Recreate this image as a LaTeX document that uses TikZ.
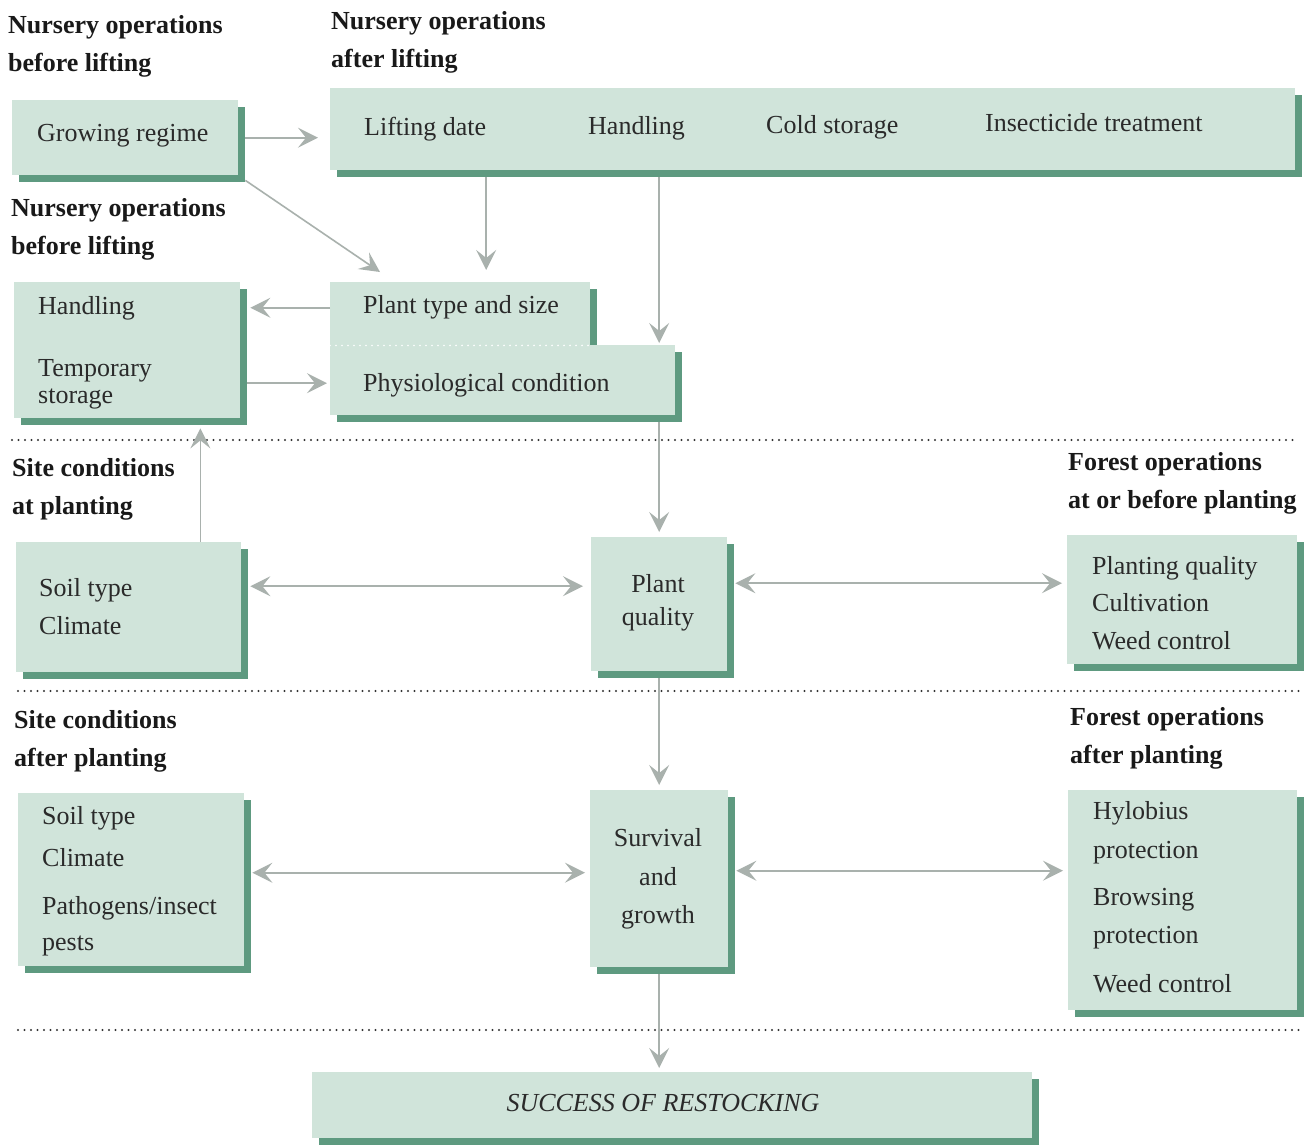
\documentclass[tikz,border=0pt]{standalone}
\usepackage{fontspec}
\setmainfont{Liberation Serif}
\usetikzlibrary{arrows.meta,shadows}
\definecolor{boxfill}{HTML}{D0E4DA}
\definecolor{boxshade}{HTML}{5E9A80}
\definecolor{arrowgrey}{HTML}{A9B1AD}
\definecolor{inkgrey}{HTML}{2A2A2A}
\newcommand\boxfont{\fontsize{26}{30}\selectfont}
\newcommand\headfont{\fontsize{26}{38}\selectfont\bfseries}

\tikzset{
  panel/.style={fill=boxfill, draw=none, inner sep=0pt, anchor=north west,
    drop shadow={shadow xshift=7pt, shadow yshift=-7pt, fill=boxshade, opacity=1}},
  entry/.style={font=\boxfont, text=inkgrey, anchor=west, inner sep=0pt,
    text height=18pt, text depth=6pt},
  heading/.style={font=\headfont, text=black!90, anchor=north west, align=left, inner sep=0pt},
  flow/.style={draw=arrowgrey, line width=1.6pt, -{Stealth[length=20pt,width=20pt,inset=8pt]}},
  twoway/.style={flow, {Stealth[length=20pt,width=20pt,inset=8pt]}-{Stealth[length=20pt,width=20pt,inset=8pt]}},
  sepline/.style={line width=2.3pt, line cap=round, dash pattern=on 0pt off 6.5pt, draw=black!80},
  seam/.style={line width=1.8pt, line cap=round, dash pattern=on 0pt off 6pt, draw=white}
}

\begin{document}
\begin{tikzpicture}[x=1pt, y=-1pt]

\fill[white] (0,0) rectangle (1310,1146);
\useasboundingbox (0,0) rectangle (1310,1146);

% Headings
\node[heading] (headA) at (8,15) {Nursery operations\\before lifting};
\node[heading] (headB) at (331,11) {Nursery operations\\after lifting};
\node[heading] (headC) at (11,198) {Nursery operations\\before lifting};
\node[heading] (headD) at (12,458) {Site conditions\\at planting};
\node[heading] (headE) at (1068,452) {Forest operations\\at or before planting};
\node[heading] (headF) at (14,710) {Site conditions\\after planting};
\node[heading] (headG) at (1070,707) {Forest operations\\after planting};

% Section separators
\draw[sepline] (12,440) -- (1295,440);
\draw[sepline] (18,691) -- (1300,691);
\draw[sepline] (18,1030) -- (1303,1030);

% Nursery, before lifting
\node[panel, minimum width=226, minimum height=75] (grow) at (12,100) {};
\node[entry] (growtxt) at (37,135) {Growing regime};

% Nursery, after lifting
\node[panel, minimum width=965, minimum height=82] (after) at (330,88) {};
\node[entry] (lift) at (364,129) {Lifting date};
\node[entry] (handA) at (588,128) {Handling};
\node[entry] (cold) at (766,127) {Cold storage};
\node[entry] (insect) at (985,125) {Insecticide treatment};

% Handling and storage
\node[panel, minimum width=226, minimum height=136] (store) at (14,282) {};
\node[entry] (handB) at (38,308) {Handling};
\node[entry] (temp) at (38,370) {Temporary};
\node[entry] (stor) at (38,397) {storage};

% Plant type and physiology
\node[panel, minimum width=260, minimum height=63] (ptype) at (330,282) {};
\node[panel, minimum width=345, minimum height=70] (physio) at (330,345) {};
\draw[seam] (ptype.south west) -- (ptype.south east);
\node[entry] (ptypetxt) at (363,307) {Plant type and size};
\node[entry] (physiotxt) at (363,385) {Physiological condition};

% At planting
\node[panel, minimum width=225, minimum height=130] (soil) at (16,542) {};
\node[entry] (soilA) at (39,590) {Soil type};
\node[entry] (climA) at (39,628) {Climate};

\node[panel, minimum width=136, minimum height=134] (quality) at (591,537) {};
\node[entry, anchor=center] (plant) at (658,586) {Plant};
\node[entry, anchor=center] (qual) at (658,619) {quality};

\node[panel, minimum width=230, minimum height=129] (forestA) at (1067,535) {};
\node[entry] (pqual) at (1092,568) {Planting quality};
\node[entry] (cult) at (1092,605) {Cultivation};
\node[entry] (weedA) at (1092,643) {Weed control};

% After planting
\node[panel, minimum width=226, minimum height=173] (soilB) at (18,793) {};
\node[entry] (soilBA) at (42,818) {Soil type};
\node[entry] (climB) at (42,860) {Climate};
\node[entry] (patho) at (42,908) {Pathogens/insect};
\node[entry] (pests) at (42,944) {pests};

\node[panel, minimum width=138, minimum height=177] (surv) at (590,790) {};
\node[entry, anchor=center] (survA) at (658,840) {Survival};
\node[entry, anchor=center] (survB) at (658,879) {and};
\node[entry, anchor=center] (survC) at (658,917) {growth};

\node[panel, minimum width=229, minimum height=220] (forestB) at (1068,790) {};
\node[entry] (hyl) at (1093,813) {Hylobius};
\node[entry] (protA) at (1093,852) {protection};
\node[entry] (brow) at (1093,899) {Browsing};
\node[entry] (protB) at (1093,937) {protection};
\node[entry] (weedB) at (1093,986) {Weed control};

% Outcome
\node[panel, minimum width=720, minimum height=66] (success) at (312,1072) {};
\node[entry, anchor=center, font=\boxfont\itshape] (successtxt) at (663,1105) {SUCCESS OF RESTOCKING};

% Connectors
\coordinate (liftdrop) at ([xshift=26pt]ptype.north);
\coordinate (soilrise) at ([xshift=-41pt]soil.north east);
\draw[flow, shorten <=7pt, shorten >=12pt] (grow.east) -- (grow.east -| after.west);
\draw[flow] ([shift={(7,5)}]grow.south east) -- ([shift={(50,-10)}]ptype.north west);
\draw[flow, shorten <=7pt, shorten >=12pt] (liftdrop |- after.south) -- (liftdrop);
\draw[flow, shorten <=7pt, shorten >=2pt] (quality.north |- after.south) -- (quality.north |- physio.north);
\draw[flow, shorten >=10pt] ([yshift=6pt]ptype.west) -- ([yshift=6pt]ptype.west -| store.east);
\draw[flow, shorten <=7pt, shorten >=3pt] ([yshift=-3pt]physio.west -| store.east) -- ([yshift=-3pt]physio.west);
\draw[flow, shorten <=7pt, shorten >=5pt] (quality.north |- physio.south) -- (quality.north);
\draw[flow, shorten >=10pt] (soilrise) -- (soilrise |- store.south);
\draw[twoway, shorten <=9pt, shorten >=8pt] ([yshift=21pt]soil.east) -- ([yshift=21pt]soil.east -| quality.west);
\draw[twoway, shorten <=8pt, shorten >=5pt] ([yshift=21pt]quality.east) -- ([yshift=21pt]quality.east -| forestA.west);
\draw[flow, shorten <=7pt, shorten >=5pt] (quality.south) -- (quality.south |- surv.north);
\draw[twoway, shorten <=8pt, shorten >=5pt] ([yshift=7pt]soilB.east) -- ([yshift=7pt]soilB.east -| surv.west);
\draw[twoway, shorten <=8pt, shorten >=5pt] ([yshift=8pt]surv.east) -- ([yshift=8pt]surv.east -| forestB.west);
\draw[flow, shorten <=7pt, shorten >=4pt] (surv.south) -- (surv.south |- success.north);

\end{tikzpicture}
\end{document}
